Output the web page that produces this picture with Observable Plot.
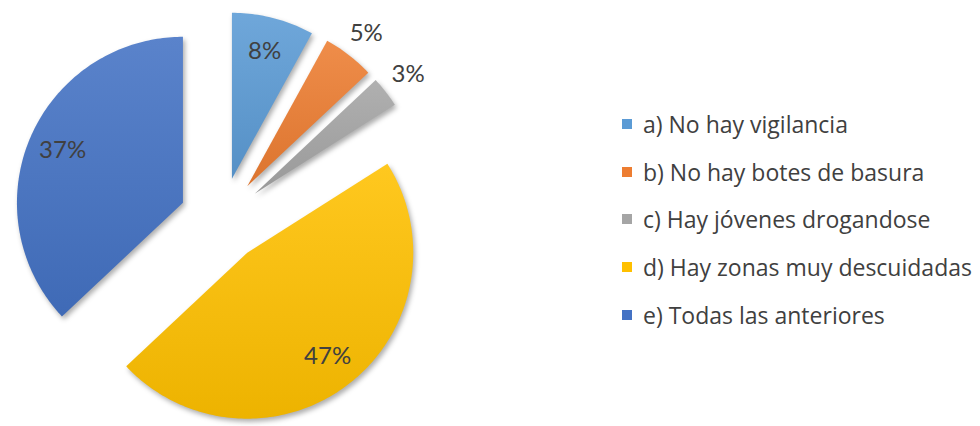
<!DOCTYPE html>
<html><head><meta charset="utf-8">
<script src="https://cdn.jsdelivr.net/npm/d3@7"></script>
<script src="https://cdn.jsdelivr.net/npm/@observablehq/plot@0.6"></script>
<style>
html,body{margin:0;padding:0;background:#fff;}
#wrap{position:relative;width:980px;height:426px;overflow:hidden;font-family:Lato,"Open Sans",sans-serif;}
#chart{position:absolute;left:0;top:0;}
#legend{position:absolute;left:622px;top:100px;}
.slices path{filter:drop-shadow(2px 3px 2.5px rgba(0,0,0,0.32));}
.leg-swatches{font-family:"Open Sans",Lato,sans-serif;font-size:23px;color:#404040;margin:0;}
.leg-swatch{height:47.7px;padding:0;}
.leg-swatch > svg{margin-right:11px;}
</style></head><body>
<div id="wrap"><div id="chart"></div><div id="legend"></div></div>
<script>
const categories = ["a) No hay vigilancia","b) No hay botes de basura","c) Hay jóvenes drogandose","d) Hay zonas muy descuidadas","e) Todas las anteriores"];
const values = [8, 5, 3, 47, 37];
const labels = ["8%", "5%", "3%", "47%", "37%"];
const colors = ["#5B9BD5", "#ED7D31", "#A5A5A5", "#FFC000", "#4472C4"];

// layout
const W = 600, H = 426, R = 166, CX = 221, CY = 219, EXPLODE = 0.253;
const total = d3.sum(values);
const pts = [], lab = [];
let cum = 0;
values.forEach((v, i) => {
  const a0 = 2 * Math.PI * cum / total, a1 = 2 * Math.PI * (cum + v) / total, am = (a0 + a1) / 2;
  cum += v;
  const ox = EXPLODE * Math.sin(am), oy = EXPLODE * Math.cos(am);
  const key = categories[i];
  pts.push({key, i, x: ox, y: oy});
  const n = Math.max(4, Math.ceil((a1 - a0) / (Math.PI / 180)));
  for (let k = 0; k <= n; k++) {
    const a = a0 + (a1 - a0) * k / n;
    pts.push({key, i, x: ox + Math.sin(a), y: oy + Math.cos(a)});
  }
  const lr = v / total >= 0.08 ? 0.79 : 1.17;
  lab.push({text: labels[i], x: ox + lr * Math.sin(am), y: oy + lr * Math.cos(am)});
});

const plot = Plot.plot({
  width: W, height: H, margin: 0,
  x: {domain: [-CX / R, (W - CX) / R], range: [0, W], axis: null},
  y: {domain: [(CY - H) / R, CY / R], range: [H, 0], axis: null},
  color: {type: "identity"},
  marks: [
    Plot.line(pts, {x: "x", y: "y", z: "key", fill: d => `url(#grad${d.i})`, stroke: "none", curve: "linear-closed", className: "slices"}),
    Plot.text(lab, {x: "x", y: "y", text: "text", fontSize: 24, fill: "#404040", fontFamily: "Lato, 'Open Sans', sans-serif"})
  ]
});

// gradient definitions for slice fills
const defs = d3.select(plot).insert("defs", ":first-child");
colors.forEach((c, i) => {
  const g = defs.append("linearGradient").attr("id", `grad${i}`).attr("x1", 0).attr("y1", 0).attr("x2", 0).attr("y2", 1);
  g.append("stop").attr("offset", "0%").attr("stop-color", d3.interpolateRgb(c, "#fff")(0.12));
  g.append("stop").attr("offset", "100%").attr("stop-color", d3.interpolateRgb(c, "#000")(0.07));
});
document.getElementById("chart").appendChild(plot);

const legend = Plot.legend({
  color: {type: "ordinal", domain: categories, range: colors},
  legend: "swatches", columns: 1, swatchSize: 10, className: "leg"
});
document.getElementById("legend").appendChild(legend);
</script>
</body></html>
